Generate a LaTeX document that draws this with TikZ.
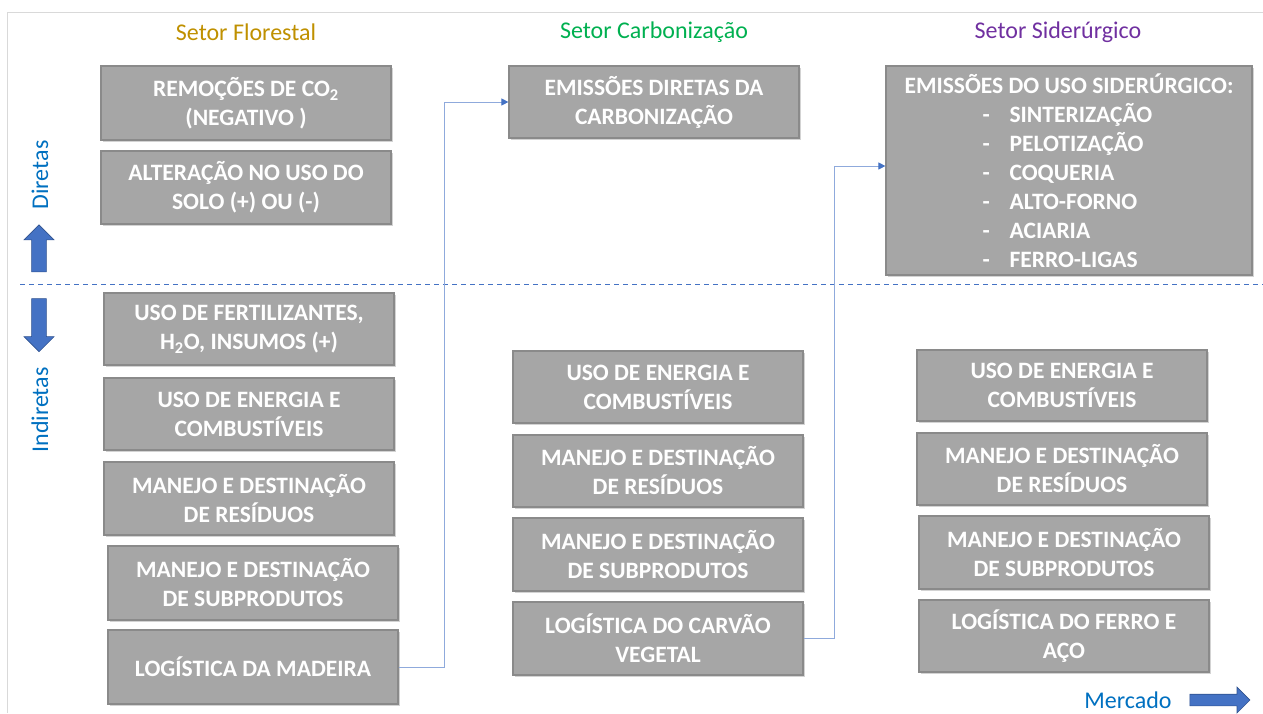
\documentclass[tikz,border=0pt]{standalone}
\usepackage{fontspec}
\setmainfont{Carlito}
\usetikzlibrary{arrows.meta,shapes.arrows,shadows}
\definecolor{boxgray}{HTML}{A6A6A6}
\definecolor{boxedge}{HTML}{8A8A8A}
\definecolor{linkblue}{HTML}{8FAADC}
\definecolor{tipblue}{HTML}{4472C4}
\definecolor{arrowedge}{HTML}{2F528F}
\definecolor{labelblue}{HTML}{0070C0}
\definecolor{florestal}{HTML}{BF9000}
\definecolor{carbon}{HTML}{00B050}
\definecolor{sider}{HTML}{7030A0}
\definecolor{framegray}{HTML}{D9D9D9}
\begin{document}
\begin{tikzpicture}[x=1pt,y=-1pt,
	box/.style={draw=boxedge,line width=1.2pt,fill=boxgray,text=white,font=\bfseries\fontsize{23.5}{29}\selectfont,align=center,inner sep=0pt,minimum width=290pt,minimum height=73pt,drop shadow={shadow xshift=2pt,shadow yshift=-2pt,opacity=0.35}},
	head/.style={font=\fontsize{24}{29}\selectfont},
	side/.style={font=\fontsize{24}{29}\selectfont,text=labelblue},
	link/.style={draw=linkblue,line width=1pt,-{Triangle[length=7pt,width=7pt,color=tipblue]}},
	blockarrow/.style={single arrow,fill=tipblue,draw=arrowedge,line width=0.6pt,inner xsep=0pt,inner ysep=6.5pt,minimum width=30pt}]
	\useasboundingbox (0,0) rectangle (1263,713);
	\draw[framegray,line width=1pt] (7,713) -- (7,12) -- (1263,12);
	\draw[tipblue,dash pattern=on 5pt off 4pt,line width=1pt] (20,284) -- (1263,284);
	\node[head,text=florestal] (h1) at (246,32) {Setor Florestal};
	\node[head,text=carbon] (h2) at (654,32) {Setor Carbonização};
	\node[head,text=sider] (h3) at (1058,32) {Setor Siderúrgico};
	\node[side,rotate=90] (d1) at (40,175) {Diretas};
	\node[side,rotate=90] (d2) at (40,410) {Indiretas};
	\node[side] (m1) at (1128,700) {Mercado};
	\node[blockarrow,rotate=90,minimum height=47pt] (a1) at (39,252) {};
	\node[blockarrow,rotate=-90,minimum height=53pt] (a2) at (39,321.5) {};
	\node[blockarrow,minimum height=60pt,minimum width=20pt,inner ysep=5.5pt] (a3) at (1217,700) {};
	\node[box,minimum height=74pt] (f1) at (246,103) {REMOÇÕES DE CO\textsubscript{2}\\(NEGATIVO )};
	\node[box] (f2) at (246,187.5) {ALTERAÇÃO NO USO DO\\SOLO (+) OU (-)};
	\node[box,minimum height=72pt] (f3) at (249,329) {USO DE FERTILIZANTES,\\H\textsubscript{2}O, INSUMOS (+)};
	\node[box,minimum height=72pt] (f4) at (249,414) {USO DE ENERGIA E\\COMBUSTÍVEIS};
	\node[box] (f5) at (249,498.5) {MANEJO E DESTINAÇÃO\\DE RESÍDUOS};
	\node[box,minimum height=74pt] (f6) at (253,583) {MANEJO E DESTINAÇÃO\\DE SUBPRODUTOS};
	\node[box,minimum height=74pt] (f7) at (253,667) {LOGÍSTICA DA MADEIRA};
	\node[box,minimum height=72pt] (c1) at (654,102) {EMISSÕES DIRETAS DA\\CARBONIZAÇÃO};
	\node[box,minimum height=72pt] (c2) at (658,387) {USO DE ENERGIA E\\COMBUSTÍVEIS};
	\node[box,minimum height=72pt] (c3) at (658,471) {MANEJO E DESTINAÇÃO\\DE RESÍDUOS};
	\node[box] (c4) at (658,554.5) {MANEJO E DESTINAÇÃO\\DE SUBPRODUTOS};
	\node[box] (c5) at (658,638.5) {LOGÍSTICA DO CARVÃO\\VEGETAL};
	\node[box,minimum width=366pt,minimum height=209pt,align=left] (s1) at (1069,170.5) {EMISSÕES DO USO SIDERÚRGICO:\\
		\hspace*{78pt}\makebox[27pt][l]{-}SINTERIZAÇÃO\\
		\hspace*{78pt}\makebox[27pt][l]{-}PELOTIZAÇÃO\\
		\hspace*{78pt}\makebox[27pt][l]{-}COQUERIA\\
		\hspace*{78pt}\makebox[27pt][l]{-}ALTO-FORNO\\
		\hspace*{78pt}\makebox[27pt][l]{-}ACIARIA\\
		\hspace*{78pt}\makebox[27pt][l]{-}FERRO-LIGAS};
	\node[box,minimum height=71pt] (s2) at (1062,385.5) {USO DE ENERGIA E\\COMBUSTÍVEIS};
	\node[box,minimum height=72pt] (s3) at (1062,469) {MANEJO E DESTINAÇÃO\\DE RESÍDUOS};
	\node[box] (s4) at (1064,552.5) {MANEJO E DESTINAÇÃO\\DE SUBPRODUTOS};
	\node[box,minimum height=72pt] (s5) at (1064,636) {LOGÍSTICA DO FERRO E\\AÇO};
	\draw[link] (f7.east) -- ++(46,0) |- (c1.west);
	\draw[link] (c5.east) -- ++(31,0) |- ([yshift=4.5pt]s1.west);
\end{tikzpicture}
\end{document}
